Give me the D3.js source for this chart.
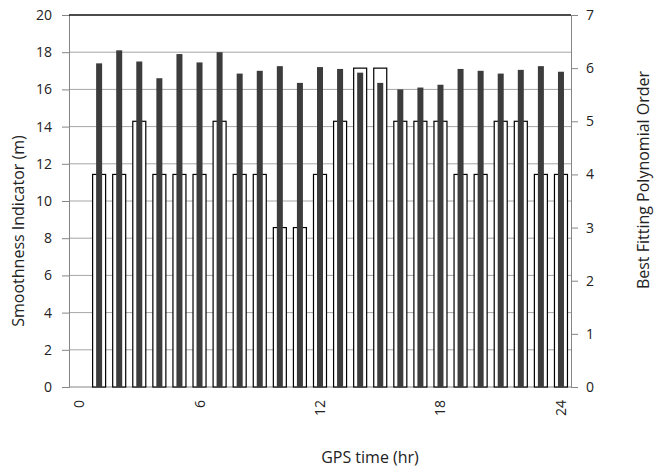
<!DOCTYPE html>
<html>
<head>
<meta charset="utf-8">
<script src="https://cdn.jsdelivr.net/npm/d3@7"></script>
<style>
  body { margin: 0; background: #fff; }
  text { font-family: "Open Sans", sans-serif; fill: #222; }
</style>
</head>
<body>
<div id="vis"></div>
<script>
// GPS hour categories (0 is empty)
const hours = d3.range(0, 25)
const dataHours = d3.range(1, 25)

// Smoothness indicator (m) per hour
const smoothness = [17.4, 18.1, 17.5, 16.6, 17.9, 17.45, 18.0, 16.85, 17.0, 17.25, 16.35, 17.2,
  17.1, 16.9, 16.35, 16.0, 16.1, 16.25, 17.1, 17.0, 16.85, 17.05, 17.25, 16.95]

// Best fitting polynomial order per hour
const polyOrder = [4, 4, 5, 4, 4, 4, 5, 4, 4, 3, 3, 4, 5, 6, 6, 5, 5, 5, 4, 4, 5, 5, 4, 4]

const leftTicks = [0, 2, 4, 6, 8, 10, 12, 14, 16, 18, 20]
const rightTicks = [0, 1, 2, 3, 4, 5, 6, 7]
const xLabels = [0, 6, 12, 18, 24]

class DualBars {
  constructor() {
    this.width = 654
    this.height = 468
    this.margin = { left: 69, right: 83, top: 15, bottom: 81 }
    this.initVis()
  }

  initVis() {
    let vis = this
    let m = vis.margin

    vis.svg = d3.select('#vis').append('svg')
      .attr('width', vis.width)
      .attr('height', vis.height)

    vis.x = d3.scaleBand()
      .domain(hours)
      .range([m.left, vis.width - m.right])

    vis.yLeft = d3.scaleLinear()
      .domain([0, 20])
      .range([vis.height - m.bottom, m.top])

    vis.yRight = d3.scaleLinear()
      .domain([0, 7])
      .range([vis.height - m.bottom, m.top])

    // gridlines
    vis.svg.append('g').selectAll('line')
      .data(leftTicks.slice(1, -1))
      .enter().append('line')
      .attr('x1', m.left).attr('x2', vis.width - m.right)
      .attr('y1', d => vis.yLeft(d)).attr('y2', d => vis.yLeft(d))
      .attr('stroke', '#a6a6a6')
      .attr('stroke-width', 1)

    // left axis
    let leftAxis = d3.axisLeft(vis.yLeft).tickValues(leftTicks).tickSize(7).tickPadding(10)
    let gl = vis.svg.append('g')
      .attr('transform', `translate(${m.left},0)`)
      .call(leftAxis)
    gl.select('.domain').attr('stroke', '#868686')
    gl.selectAll('.tick line').attr('stroke', '#868686')
    gl.selectAll('text').style('font-size', '14px').attr('fill', '#222')

    // right axis
    let rightAxis = d3.axisRight(vis.yRight).tickValues(rightTicks)
      .tickFormat(d3.format('d')).tickSize(7).tickPadding(8)
    let gr = vis.svg.append('g')
      .attr('transform', `translate(${vis.width - m.right},0)`)
      .call(rightAxis)
    gr.select('.domain').attr('stroke', '#868686')
    gr.selectAll('.tick line').attr('stroke', '#868686')
    gr.selectAll('text').style('font-size', '14px').attr('fill', '#222')

    // top border
    vis.svg.append('line')
      .attr('x1', m.left).attr('x2', vis.width - m.right)
      .attr('y1', m.top).attr('y2', m.top)
      .attr('stroke', '#111').attr('stroke-width', 1.5)

    // x-axis baseline
    vis.svg.append('line')
      .attr('x1', m.left).attr('x2', vis.width - m.right)
      .attr('y1', vis.yLeft(0)).attr('y2', vis.yLeft(0))
      .attr('stroke', '#868686')

    // x labels, rotated
    vis.svg.append('g').selectAll('text')
      .data(xLabels)
      .enter().append('text')
      .attr('transform', d => `translate(${vis.x(d) + vis.x.bandwidth() / 2 + 5},${vis.yLeft(0) + 13}) rotate(-90)`)
      .attr('text-anchor', 'end')
      .style('font-size', '14px')
      .text(d => d)

    // titles
    vis.svg.append('text')
      .attr('transform', `translate(24,${231}) rotate(-90)`)
      .attr('text-anchor', 'middle')
      .style('font-size', '16px')
      .text('Smoothness Indicator (m)')

    vis.svg.append('text')
      .attr('transform', `translate(649,${180}) rotate(-90)`)
      .attr('text-anchor', 'middle')
      .style('font-size', '16px')
      .text('Best Fitting Polynomial Order')

    vis.svg.append('text')
      .attr('x', 370)
      .attr('y', 463)
      .attr('text-anchor', 'middle')
      .style('font-size', '16px')
      .text('GPS time (hr)')

    vis.renderVis()
  }

  renderVis() {
    let vis = this
    let bw = vis.x.bandwidth()

    // polynomial order: white outlined bars
    vis.svg.append('g').selectAll('rect')
      .data(dataHours)
      .enter().append('rect')
      .attr('x', (d, i) => vis.x(d) + bw / 2 - 6.5)
      .attr('width', 13)
      .attr('y', (d, i) => vis.yRight(polyOrder[i]))
      .attr('height', (d, i) => vis.yRight(0) - vis.yRight(polyOrder[i]))
      .attr('fill', '#fff')
      .attr('stroke', '#000')
      .attr('stroke-width', 1.2)

    // smoothness: dark bars
    vis.svg.append('g').selectAll('rect')
      .data(dataHours)
      .enter().append('rect')
      .attr('x', (d, i) => vis.x(d) + bw / 2 - 3)
      .attr('width', 6)
      .attr('y', (d, i) => vis.yLeft(smoothness[i]))
      .attr('height', (d, i) => vis.yLeft(0) - vis.yLeft(smoothness[i]))
      .attr('fill', '#3c3c3c')
  }
}

new DualBars()
</script>
</body>
</html>
